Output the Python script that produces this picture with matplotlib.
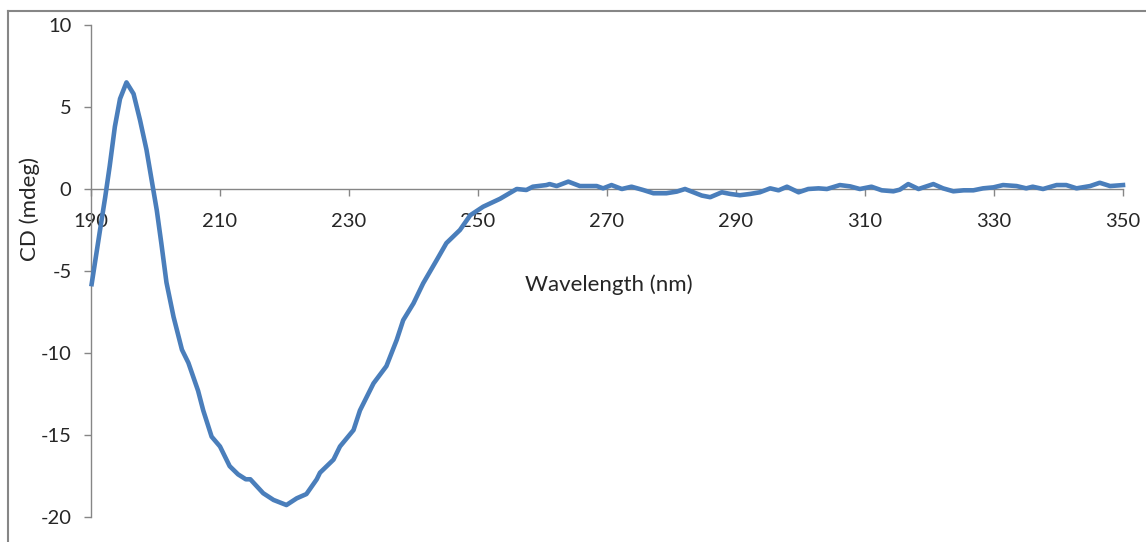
import matplotlib.pyplot as plt
from matplotlib.lines import Line2D

# CD spectrum
wavelength = [190.1, 191.4, 192.2, 192.9, 193.7, 194.5, 195.5, 196.6, 197.6, 198.6,
              199.4, 200.2, 200.9, 201.7, 202.8, 204.1, 205.1, 206.6, 207.4, 208.7,
              210.0, 211.5, 212.8, 214.0, 214.7, 216.7, 218.3, 220.3, 221.9, 223.4,
              225.0, 225.5, 227.6, 228.6, 230.7, 231.7, 233.8, 235.8, 237.4, 238.4,
              240.0, 241.5, 243.6, 245.1, 247.2, 248.8, 250.8, 253.4, 256.0, 257.5,
              258.5, 260.6, 261.1, 262.2, 264.0, 265.8, 267.4, 268.4, 269.4, 270.7,
              272.3, 273.8, 275.6, 277.2, 279.2, 280.8, 282.1, 283.4, 284.7, 286.0,
              287.8, 289.1, 290.6, 292.2, 293.7, 295.3, 296.6, 297.9, 299.7, 301.2,
              302.8, 304.1, 306.1, 307.7, 309.2, 311.0, 312.6, 314.4, 315.4, 316.7,
              318.3, 320.6, 322.1, 323.7, 325.3, 326.8, 328.3, 329.9, 331.4, 333.5,
              335.0, 336.0, 337.6, 339.7, 341.2, 342.8, 344.9, 346.4, 348.0, 350.0]
cd = [-5.8, -2.5, -0.5, 1.4, 3.8, 5.5, 6.5, 5.8, 4.2, 2.4,
      0.55, -1.3, -3.3, -5.7, -7.8, -9.8, -10.6, -12.3, -13.5, -15.1,
      -15.7, -16.9, -17.4, -17.7, -17.7, -18.55, -18.96, -19.27, -18.86, -18.6,
      -17.7, -17.3, -16.5, -15.7, -14.7, -13.5, -11.85, -10.8, -9.2, -8.0,
      -6.97, -5.75, -4.33, -3.3, -2.5, -1.6, -1.08, -0.6, 0.0, -0.06,
      0.14, 0.24, 0.3, 0.18, 0.45, 0.18, 0.18, 0.18, 0.04, 0.24,
      0.0, 0.14, -0.06, -0.26, -0.26, -0.16, 0.0, -0.2, -0.4, -0.5,
      -0.2, -0.3, -0.38, -0.3, -0.2, 0.04, -0.08, 0.14, -0.2, 0.0,
      0.04, 0.0, 0.24, 0.16, 0.0, 0.14, -0.08, -0.14, -0.04, 0.3,
      0.0, 0.3, 0.04, -0.14, -0.08, -0.08, 0.04, 0.1, 0.24, 0.18,
      0.04, 0.14, 0.0, 0.24, 0.24, 0.04, 0.18, 0.38, 0.18, 0.24]
x_ticks = [190, 210, 230, 250, 270, 290, 310, 330, 350]
y_ticks = [-20, -15, -10, -5, 0, 5, 10]

plt.rcParams['font.family'] = ['Lato', 'DejaVu Sans']
plt.rcParams['axes.unicode_minus'] = False
grey = '#868686'
txt = '#262626'

fig = plt.figure(figsize=(11.46, 5.42), dpi=100)
ax = fig.add_axes([91 / 1146, 1 - 517 / 542, 1032 / 1146, 492 / 542])

# curve sits on top of the axis line and tick labels, like the Excel original
ax.plot(wavelength, cd, color='#4a7ebb', lw=3.3, solid_joinstyle='round',
        zorder=3, clip_on=False)

ax.set_xlim(190, 350)
ax.set_ylim(-20, 10)
ax.set_xticks(x_ticks)
ax.set_yticks(y_ticks)
ax.spines['top'].set_visible(False)
ax.spines['right'].set_visible(False)
ax.spines['bottom'].set_position(('data', 0))
for s in ['left', 'bottom']:
    ax.spines[s].set_color(grey)
    ax.spines[s].set_linewidth(1)
ax.tick_params(axis='both', direction='out', length=5, width=1, color=grey,
               labelsize=14.5, labelcolor=txt)
ax.tick_params(axis='x', pad=12)
ax.tick_params(axis='y', pad=9)

fig.text(609 / 1146, 1 - 285 / 542, 'Wavelength (nm)', ha='center', va='center',
         fontsize=16, color=txt)
fig.text(30 / 1146, 1 - 209 / 542, 'CD (mdeg)', ha='center', va='center',
         rotation=90, fontsize=16, color=txt)

# chart-area border (only top and left visible in the crop)
fig.add_artist(Line2D([8 / 1146, 8 / 1146], [0, 1 - 11 / 542], color=grey, lw=1.5,
                      transform=fig.transFigure))
fig.add_artist(Line2D([8 / 1146, 1], [1 - 11 / 542, 1 - 11 / 542], color=grey, lw=1.5,
                      transform=fig.transFigure))

fig.savefig('out.png', dpi=100)
